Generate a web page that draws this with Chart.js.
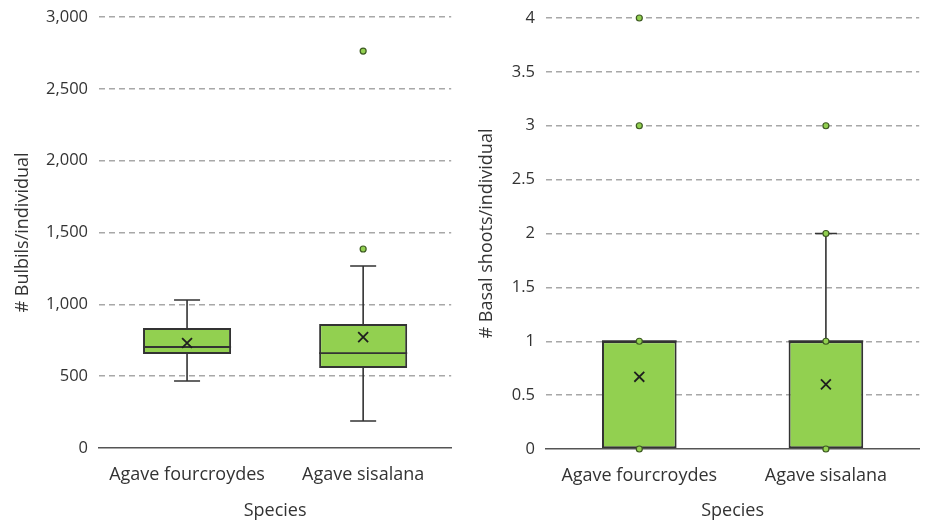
<!DOCTYPE html>
<html>
<head>
<meta charset="utf-8">
<title>Bulbils and basal shoots</title>
<script src="https://cdn.jsdelivr.net/npm/chart.js@4.4.1/dist/chart.umd.min.js"></script>
<style>
  body { margin: 0; background: #fff; }
  .panel { position: absolute; top: 0; height: 522px; }
  #left { left: 0; width: 460px; }
  #right { left: 460px; width: 468px; }
</style>
</head>
<body>
<div class="panel" id="left"><canvas id="bulbilsChart"></canvas></div>
<div class="panel" id="right"><canvas id="shootsChart"></canvas></div>
<script>
const species = ['Agave fourcroydes', 'Agave sisalana'];

// Bulbils per individual
const bulbilsMin = [466, 188];
const bulbilsQ1 = [654, 557];
const bulbilsMedian = [703, 661];
const bulbilsQ3 = [835, 863];
const bulbilsMax = [1030, 1267];
const bulbilsMean = [731, 772];
const bulbilsPoints = [[], [1385, 2763]];
const bulbilsTicks = [0, 500, 1000, 1500, 2000, 2500, 3000];

// Basal shoots per individual
const shootsMin = [0, 0];
const shootsQ1 = [0, 0];
const shootsMedian = [1, 1];
const shootsQ3 = [1, 1];
const shootsMax = [1, 2];
const shootsMean = [0.67, 0.6];
const shootsPoints = [[0, 1, 3, 4], [0, 1, 2, 3]];
const shootsTicks = [0, 0.5, 1, 1.5, 2, 2.5, 3, 3.5, 4];

const GREEN = '#92D050';
const DARK = '#333333';
const TEXT = '#333333';
const FONT = "'Open Sans', sans-serif";

// whiskers behind the boxes, median line on top of them
const whiskerPlugin = {
    id: 'whiskers',
    beforeDatasetsDraw(chart, args, opts) {
        const x = chart.scales.x, y = chart.scales.y, ctx = chart.ctx;
        ctx.save();
        ctx.strokeStyle = DARK;
        ctx.lineWidth = 1.6;
        opts.min.forEach((mn, i) => {
            const cx = x.getPixelForValue(i);
            const half = opts.capWidth / 2;
            [[opts.q3[i], opts.max[i]], [opts.q1[i], mn]].forEach(([from, to]) => {
                if (from === to) return;
                const y0 = y.getPixelForValue(from), y1 = y.getPixelForValue(to);
                ctx.beginPath();
                ctx.moveTo(cx, y0);
                ctx.lineTo(cx, y1);
                ctx.moveTo(cx - half, y1);
                ctx.lineTo(cx + half, y1);
                ctx.stroke();
            });
        });
        ctx.restore();
    },
    afterDatasetDraw(chart, args, opts) {
        if (args.index !== 0) return;
        const y = chart.scales.y, ctx = chart.ctx;
        ctx.save();
        ctx.strokeStyle = DARK;
        ctx.lineWidth = 1.8;
        args.meta.data.forEach((bar, i) => {
            const { x, width } = bar.getProps(['x', 'width'], true);
            const ym = y.getPixelForValue(opts.median[i]);
            ctx.beginPath();
            ctx.moveTo(x - width / 2, ym);
            ctx.lineTo(x + width / 2, ym);
            ctx.stroke();
        });
        ctx.restore();
    }
};

function makeBoxChart(canvasId, d) {
    const ctx = document.getElementById(canvasId).getContext('2d');
    return new Chart(ctx, {
        type: 'bar',
        data: {
            labels: species,
            datasets: [
                {
                    data: species.map((s, i) => [d.q1[i], d.q3[i]]),
                    backgroundColor: GREEN,
                    borderColor: DARK,
                    borderWidth: 2,
                    borderSkipped: false,
                    barPercentage: d.barPct,
                    categoryPercentage: 1,
                    order: 3
                },
                {
                    type: 'line',
                    data: species.map((s, i) => ({ x: s, y: d.mean[i] })),
                    showLine: false,
                    pointStyle: 'crossRot',
                    pointRadius: 7,
                    borderColor: '#1f1f1f',
                    borderWidth: 1.8,
                    clip: false,
                    order: 1
                },
                {
                    type: 'line',
                    data: species.flatMap((s, i) => d.points[i].map(v => ({ x: s, y: v }))),
                    showLine: false,
                    pointStyle: 'circle',
                    pointRadius: 3,
                    backgroundColor: GREEN,
                    borderColor: '#3d5a22',
                    borderWidth: 1.2,
                    clip: false,
                    order: 0
                }
            ]
        },
        options: {
            responsive: true,
            maintainAspectRatio: false,
            animation: false,
            layout: { padding: d.padding },
            plugins: {
                legend: { display: false },
                tooltip: { enabled: false },
                whiskers: {
                    min: d.min, q1: d.q1, median: d.median, q3: d.q3, max: d.max,
                    capWidth: d.capWidth
                }
            },
            scales: {
                x: {
                    grid: { display: false, drawTicks: false },
                    border: { display: true, color: '#555555', width: 1.6 },
                    ticks: { color: TEXT, font: { family: FONT, size: 18 }, padding: 16 },
                    title: {
                        display: true, text: 'Species', color: TEXT,
                        font: { family: FONT, size: 18 }, padding: { top: 4, bottom: 0 }
                    },
                    afterFit: s => { s.height = d.xHeight; }
                },
                y: {
                    min: d.ticks[0],
                    max: d.ticks[d.ticks.length - 1],
                    afterBuildTicks: s => { s.ticks = d.ticks.map(v => ({ value: v })); },
                    grid: {
                        drawTicks: false,
                        lineWidth: 1.4,
                        color: c => c.tick && c.tick.value === 0 ? 'rgba(0,0,0,0)' : '#a8a8a8'
                    },
                    border: { display: false, dash: [6, 4] },
                    ticks: {
                        color: TEXT,
                        font: { family: FONT, size: 16.5 },
                        padding: 11,
                        callback: v => v.toLocaleString('en-US')
                    },
                    title: {
                        display: true, text: d.yTitle, color: TEXT,
                        font: { family: FONT, size: 18 }, padding: { top: d.yTitlePad, bottom: 0 }
                    },
                    afterFit: s => {
                        s.width = d.yWidth;
                        s.paddingTop = 0;
                        s.paddingBottom = 0;
                    }
                }
            }
        },
        plugins: [whiskerPlugin]
    });
}

makeBoxChart('bulbilsChart', {
    min: bulbilsMin, q1: bulbilsQ1, median: bulbilsMedian, q3: bulbilsQ3, max: bulbilsMax,
    mean: bulbilsMean, points: bulbilsPoints, ticks: bulbilsTicks,
    yTitle: '# Bulbils/individual',
    barPct: 0.5, capWidth: 26,
    padding: { top: 17, right: 6, bottom: 0, left: 0 },
    yWidth: 99, xHeight: 74, yTitlePad: 12
});

makeBoxChart('shootsChart', {
    min: shootsMin, q1: shootsQ1, median: shootsMedian, q3: shootsQ3, max: shootsMax,
    mean: shootsMean, points: shootsPoints, ticks: shootsTicks,
    yTitle: '# Basal shoots/individual',
    barPct: 0.4, capWidth: 22,
    padding: { top: 18, right: 1, bottom: 0, left: 0 },
    yWidth: 86, xHeight: 73, yTitlePad: 16
});
</script>
</body>
</html>
